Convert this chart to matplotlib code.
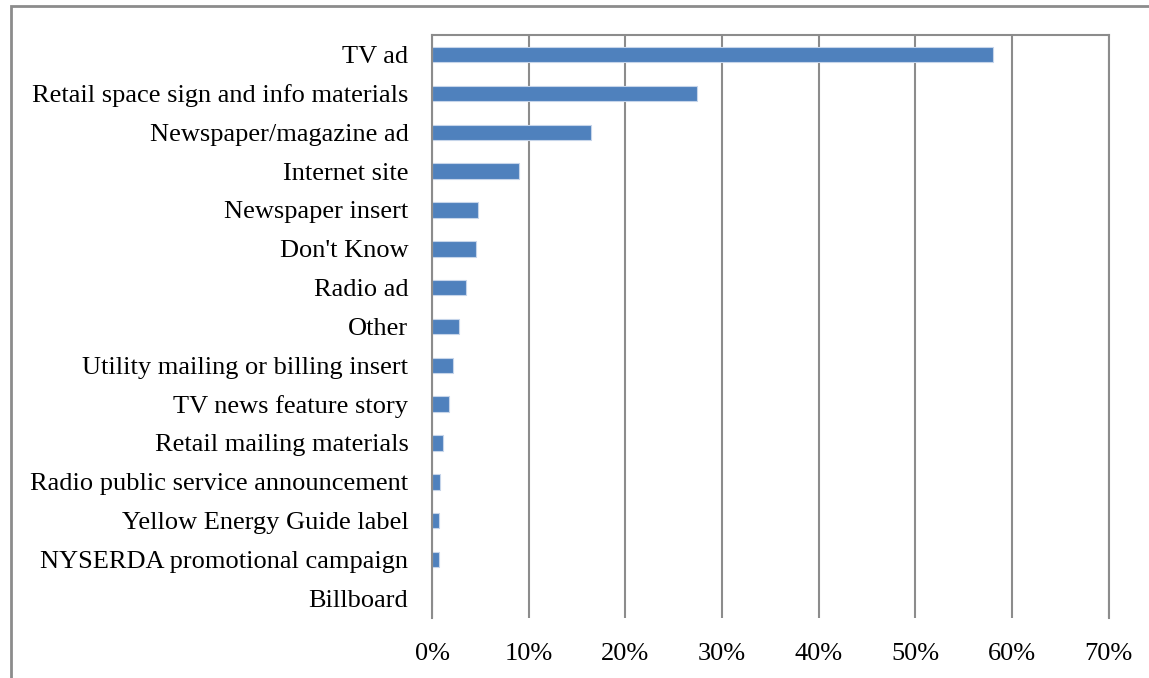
import numpy as np
import matplotlib
matplotlib.use("Agg")
import matplotlib.pyplot as plt
from matplotlib.patches import Rectangle
from matplotlib.ticker import PercentFormatter

plt.rcParams["font.family"] = ["Liberation Serif", "DejaVu Serif"]

sources = [
    "TV ad",
    "Retail space sign and info materials",
    "Newspaper/magazine ad",
    "Internet site",
    "Newspaper insert",
    "Don't Know",
    "Radio ad",
    "Other",
    "Utility mailing or billing insert",
    "TV news feature story",
    "Retail mailing materials",
    "Radio public service announcement",
    "Yellow Energy Guide label",
    "NYSERDA promotional campaign",
    "Billboard",
]
shares = [58.0, 27.4, 16.4, 9.0, 4.8, 4.5, 3.5, 2.8, 2.2, 1.8, 1.1, 0.8, 0.7, 0.7, 0.0]
x_ticks = [0, 10, 20, 30, 40, 50, 60, 70]

GRID = "#8c8c8c"
BAR = "#4f81bd"

fig = plt.figure(figsize=(11.49, 6.78), dpi=100)
ax = fig.add_axes([0.376, 0.089, 0.589, 0.859])

y = np.arange(len(sources))
ax.barh(y, shares, height=0.4, color=BAR, edgecolor="#c6d5ea", linewidth=0.8, zorder=3)

ax.set_ylim(len(sources) - 0.5, -0.5)
ax.set_xlim(0, 70)
ax.set_yticks(y)
ax.set_yticklabels(sources)
ax.set_xticks(x_ticks)
ax.xaxis.set_major_formatter(PercentFormatter(decimals=0))
ax.tick_params(axis="both", length=0, labelsize=19, colors="black")
ax.tick_params(axis="y", pad=17)
ax.tick_params(axis="x", pad=18)
ax.grid(axis="x", color=GRID, linewidth=1.5, zorder=0)

for side in ("top", "right", "left"):
    ax.spines[side].set_color(GRID)
    ax.spines[side].set_linewidth(1.5)
    ax.spines[side].set_zorder(4)
ax.spines["bottom"].set_visible(False)

# outer chart frame (cut off at right and bottom)
fig.patches.append(Rectangle((11 / 1149, -0.05), 1.2, 1 - 6 / 678 + 0.05,
                             transform=fig.transFigure, fill=False,
                             edgecolor=GRID, linewidth=2))

fig.savefig("out.png", dpi=100)
